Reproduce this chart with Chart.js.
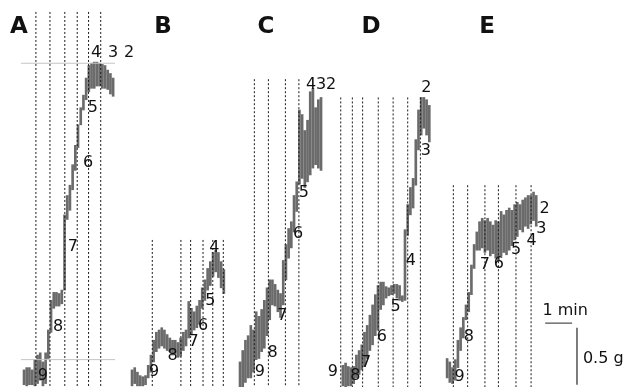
<!DOCTYPE html>
<html>
<head>
<meta charset="utf-8">
<style>
    html, body { margin: 0; padding: 0; background: #fff; }
    canvas { display: block; }
</style>
</head>
<body>
<canvas id="fig" width="628" height="387"></canvas>
<script src="https://cdn.jsdelivr.net/npm/chart.js@4.4.0/dist/chart.umd.min.js"></script>
<script>
/* DATA — time in min, force in g (figure scale: 1 min = 27 px, 1 g = 114 px) */

const panels = ['A', 'B', 'C', 'D', 'E']
const titleTime = [0.70, 6.04, 9.85, 13.74, 18.04]
const titleForce = 3.16

// recorder trace, one min/max pair every 0.1 min
const sampleStep = 0.1
const traceStart = [0.89, 4.89, 8.89, 12.70, 16.56]

const lowA = [0.02, 0.01, 0.02, 0.02, 0.01, 0.03, 0.06, 0.01, 0.03, 0.25, 0.48, 0.69, 0.71, 0.71, 0.73, 0.85, 1.47, 1.55, 1.73, 1.90, 2.10, 2.30, 2.43, 2.52, 2.59, 2.62, 2.62, 2.64, 2.64, 2.62, 2.62, 2.61, 2.57, 2.55]
const highA = [0.15, 0.17, 0.17, 0.15, 0.24, 0.28, 0.30, 0.22, 0.30, 0.50, 0.76, 0.83, 0.83, 0.82, 0.85, 1.51, 1.68, 1.77, 1.95, 2.12, 2.30, 2.45, 2.56, 2.71, 2.82, 2.84, 2.85, 2.85, 2.84, 2.83, 2.82, 2.78, 2.75, 2.71]

const lowB = [0.01, 0.03, 0.01, 0.01, 0.01, 0.02, 0.08, 0.13, 0.22, 0.31, 0.34, 0.36, 0.34, 0.32, 0.31, 0.28, 0.29, 0.26, 0.27, 0.32, 0.36, 0.43, 0.46, 0.50, 0.52, 0.55, 0.69, 0.76, 0.85, 0.89, 0.97, 1.01, 0.96, 0.87, 0.82]
const highB = [0.15, 0.17, 0.13, 0.10, 0.09, 0.10, 0.19, 0.28, 0.41, 0.48, 0.50, 0.52, 0.50, 0.46, 0.43, 0.41, 0.41, 0.39, 0.43, 0.48, 0.50, 0.75, 0.69, 0.66, 0.71, 0.76, 0.87, 0.94, 1.04, 1.10, 1.18, 1.20, 1.18, 1.10, 1.03]

const lowC = [0.00, 0.00, 0.04, 0.08, 0.08, 0.13, 0.24, 0.25, 0.31, 0.34, 0.45, 0.59, 0.72, 0.71, 0.66, 0.61, 0.72, 0.94, 1.13, 1.22, 1.36, 1.54, 1.78, 1.83, 1.75, 1.80, 1.86, 1.92, 1.95, 1.92, 1.90]
const highC = [0.22, 0.32, 0.41, 0.45, 0.54, 0.50, 0.66, 0.62, 0.68, 0.76, 0.87, 0.94, 0.94, 0.90, 0.85, 0.82, 1.11, 1.25, 1.39, 1.45, 1.68, 1.80, 2.43, 2.39, 2.25, 2.34, 2.59, 2.62, 2.45, 2.52, 2.54]

const lowD = [0.01, 0.00, 0.01, 0.01, 0.03, 0.08, 0.11, 0.15, 0.18, 0.25, 0.32, 0.37, 0.45, 0.50, 0.68, 0.72, 0.78, 0.80, 0.81, 0.82, 0.78, 0.76, 0.75, 0.76, 1.33, 1.51, 1.57, 1.77, 2.08, 2.21, 2.27, 2.21, 2.15]
const highD = [0.19, 0.21, 0.18, 0.17, 0.18, 0.28, 0.32, 0.37, 0.48, 0.54, 0.63, 0.72, 0.81, 0.89, 0.92, 0.92, 0.88, 0.87, 0.89, 0.90, 0.90, 0.89, 0.80, 1.38, 1.60, 1.75, 1.83, 2.17, 2.43, 2.54, 2.54, 2.52, 2.47]

const lowE = [0.08, 0.04, 0.03, 0.06, 0.17, 0.32, 0.43, 0.59, 0.66, 0.81, 1.04, 1.20, 1.20, 1.22, 1.18, 1.20, 1.15, 1.17, 1.13, 1.11, 1.15, 1.18, 1.16, 1.20, 1.24, 1.29, 1.32, 1.38, 1.36, 1.41, 1.39, 1.43, 1.46, 1.41]
const highE = [0.25, 0.22, 0.17, 0.24, 0.41, 0.52, 0.61, 0.72, 0.83, 1.07, 1.25, 1.36, 1.45, 1.48, 1.46, 1.48, 1.45, 1.42, 1.46, 1.45, 1.54, 1.51, 1.55, 1.57, 1.55, 1.60, 1.62, 1.60, 1.64, 1.66, 1.68, 1.68, 1.71, 1.68]

// stimulus markers (dotted lines), min
const markA = [1.33, 1.85, 2.40, 2.86, 3.28, 3.73]
const markB = [5.64, 6.70, 7.06, 7.52, 7.88, 8.27]
const markC = [9.42, 9.94, 10.57, 11.07]
const markD = [12.62, 13.05, 13.43, 14.01, 14.56, 15.10, 15.57]
const markE = [16.79, 17.32, 17.96, 18.46, 19.11, 19.67]
const markTop = [3.29, 1.29, 2.70, 2.54, 1.77]

// step numbers written on the traces
const stimNumbers = ['9', '8', '7', '6', '5', '4', '3', '2']
const labTimeA = [1.59, 2.15, 2.70, 3.26, 3.44, 3.56, 4.19, 4.78]
const labForceA = [0.10, 0.53, 1.23, 1.97, 2.45, 2.93, 2.93, 2.93]
const labTimeB = [5.71, 6.39, 7.17, 7.52, 7.79, 7.94]
const labForceB = [0.13, 0.27, 0.40, 0.54, 0.76, 1.22]
const labTimeC = [9.62, 10.10, 10.46, 11.04, 11.25, 11.52, 11.89, 12.26]
const labForceC = [0.13, 0.30, 0.62, 1.34, 1.70, 2.65, 2.65, 2.65]
const labTimeD = [12.33, 13.16, 13.56, 14.14, 14.65, 15.22, 15.77, 15.79]
const labForceD = [0.13, 0.10, 0.21, 0.44, 0.70, 1.11, 2.07, 2.62]
const labTimeE = [17.02, 17.36, 17.96, 18.48, 19.11, 19.69, 20.05, 20.17]
const labForceE = [0.09, 0.44, 1.07, 1.08, 1.20, 1.28, 1.39, 1.56]

// panel A frame lines
const frameForceA = [2.84, 0.24]
const frameSpanA = [0.78, 4.26]

// scale bars
const scaleMin = 1
const scaleG = 0.5
const scaleBarTime = 20.19
const scaleBarForce = 0.56
const scaleVTime = 21.37
const scaleVBase = 0.02

/* CHART */

const X_MAX = 628 / 27
const Y_MAX = 387 / 114

const lows = [lowA, lowB, lowC, lowD, lowE]
const highs = [highA, highB, highC, highD, highE]
const marks = [markA, markB, markC, markD, markE]
const labTimes = [labTimeA, labTimeB, labTimeC, labTimeD, labTimeE]
const labForces = [labForceA, labForceB, labForceC, labForceD, labForceE]

function traceData(start, lo, hi) {
    return lo.map((v, i) => ({ x: start + i * sampleStep, y: [v, hi[i]] }))
}

function segment(x1, y1, x2, y2, color, width, dash) {
    return {
        type: 'line',
        data: [{ x: x1, y: y1 }, { x: x2, y: y2 }],
        borderColor: color,
        borderWidth: width,
        borderDash: dash || [],
        pointRadius: 0,
        order: 1
    }
}

const datasets = []

panels.forEach((p, i) => {
    datasets.push({
        type: 'bar',
        data: traceData(traceStart[i], lows[i], highs[i]),
        backgroundColor: 'rgba(50,50,50,0.72)',
        barThickness: 2,
        grouped: false,
        order: 2
    })
    marks[i].forEach((t) => {
        datasets.push(segment(t, markTop[i], t, 0, '#1a1a1a', 1, [2, 2]))
    })
})

frameForceA.forEach((f) => {
    datasets.push(segment(frameSpanA[0], f, frameSpanA[1], f, '#c4c4c4', 1))
})

datasets.push(segment(scaleBarTime, scaleBarForce, scaleBarTime + scaleMin, scaleBarForce, '#777', 1.6))
datasets.push(segment(scaleVTime, scaleVBase, scaleVTime, scaleVBase + scaleG, '#444', 1.4))

const textPlugin = {
    id: 'figText',
    afterDatasetsDraw(chart) {
        const { ctx, scales: { x, y } } = chart
        ctx.save()
        ctx.fillStyle = '#111'
        ctx.textAlign = 'center'
        ctx.textBaseline = 'middle'

        ctx.font = 'bold 23px "DejaVu Sans"'
        panels.forEach((p, i) => {
            ctx.fillText(p, x.getPixelForValue(titleTime[i]), y.getPixelForValue(titleForce))
        })

        ctx.font = '16px "DejaVu Sans"'
        labTimes.forEach((times, i) => {
            times.forEach((t, k) => {
                ctx.fillText(stimNumbers[k], x.getPixelForValue(t), y.getPixelForValue(labForces[i][k]))
            })
        })

        ctx.fillText(scaleMin + ' min', x.getPixelForValue(scaleBarTime + scaleMin * 0.74), y.getPixelForValue(scaleBarForce + 0.11))
        ctx.textAlign = 'left'
        ctx.fillText(scaleG + ' g', x.getPixelForValue(scaleVTime + 0.22), y.getPixelForValue(scaleVBase + scaleG * 0.46))
        ctx.restore()
    }
}

new Chart(document.getElementById('fig'), {
    type: 'line',
    data: { datasets },
    options: {
        responsive: false,
        animation: false,
        devicePixelRatio: 1,
        layout: { padding: 0 },
        plugins: {
            legend: { display: false },
            tooltip: { enabled: false }
        },
        scales: {
            x: { type: 'linear', min: 0, max: X_MAX, offset: false, display: false },
            y: { type: 'linear', min: 0, max: Y_MAX, display: false }
        }
    },
    plugins: [textPlugin]
})
</script>
</body>
</html>
